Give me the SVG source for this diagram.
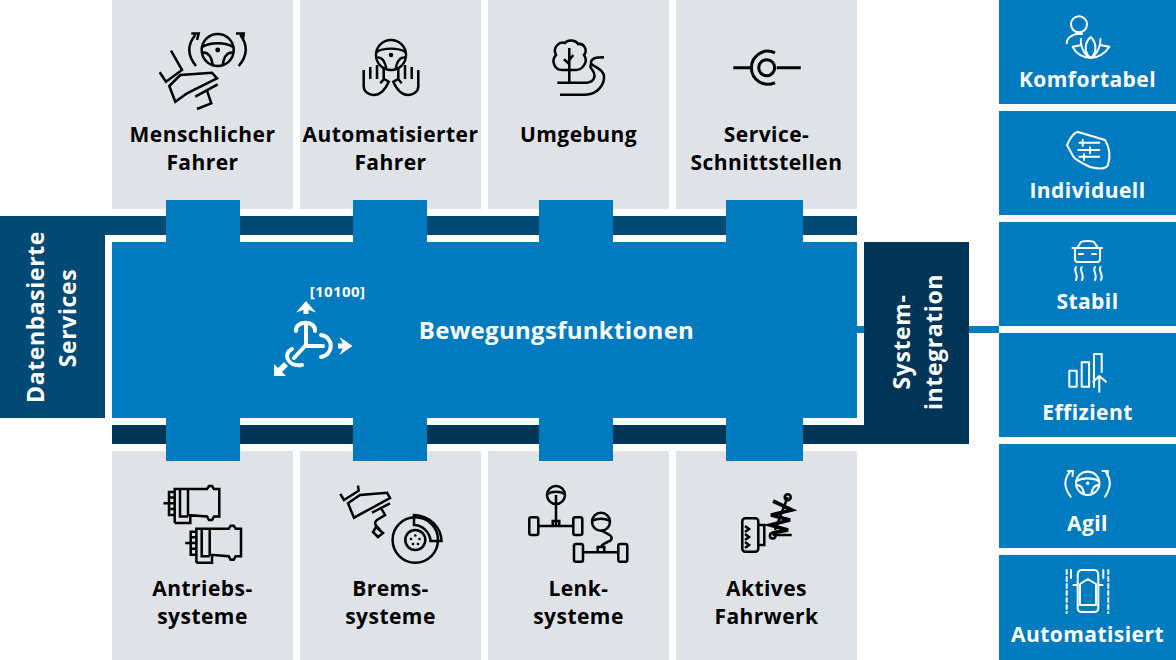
<svg xmlns="http://www.w3.org/2000/svg" width="1176" height="660" viewBox="0 0 1176 660">
<style>
text{font-family:"Open Sans","Noto Sans","Liberation Sans",sans-serif;font-weight:700}
.l{font-size:21px;letter-spacing:.45px;fill:#000;text-anchor:middle}
.w{font-size:21px;letter-spacing:.45px;fill:#fff;text-anchor:middle}
.r{font-size:23px;letter-spacing:.6px;fill:#fff;text-anchor:middle}
.cell{fill:#dfe2e6}
.blue{fill:#007bc0}
.k{fill:none;stroke:#000;stroke-width:2.500;stroke-linecap:butt;stroke-linejoin:miter}
.i{fill:none;stroke:#fff;stroke-width:2;stroke-linecap:round;stroke-linejoin:round}
.c{fill:none;stroke:#fff;stroke-width:4;stroke-linecap:round}
</style>
<defs>
<g id="wheel"><circle r="16" fill="none"/><path d="M-15.500-3C-8-8 8-8 15.500-3M-15 2.500C-8 2-6 8-5 15M15 2.500C8 2 6 8 5 15" fill="none"/><circle r="2.400" stroke="none"/></g>
<g id="motor"><path d="M174.700 523V489H207L209 486H212L214 489H219.300V516.500H214L212 520H209L207 516.500L188 515V489M180 489V516.500H188M174.700 523H190.300V515M169 492H174.700V515H169ZM163.500 503.300H169M169 497.500H174.700M169 503.300H174.700M169 509H174.700" fill="none"/></g>
</defs>
<g id="cells">
<rect class="cell" x="112" y="0" width="181" height="209"/><rect class="cell" x="300" y="0" width="181" height="209"/><rect class="cell" x="488" y="0" width="181" height="209"/><rect class="cell" x="676" y="0" width="181" height="209"/>
<rect class="cell" x="112" y="451" width="181" height="209"/><rect class="cell" x="300" y="451" width="181" height="209"/><rect class="cell" x="488" y="451" width="181" height="209"/><rect class="cell" x="676" y="451" width="181" height="209"/>
</g>
<g id="daten">
<path d="M0 216H857V235H105V418H0Z" fill="#004975"/>
<text class="r" transform="translate(44 317)rotate(-90)">Datenbasierte</text><text class="r" transform="translate(76 318)rotate(-90)">Services</text>
</g>
<g id="systemintegration">
<path d="M112 425H864V242H969V444H112Z" fill="#003558"/>
<text class="r" transform="translate(910 342)rotate(-90)">System-</text><text class="r" transform="translate(942 342)rotate(-90)">integration</text>
</g>
<g id="connectors" class="blue"><rect x="857" y="326" width="7" height="7"/><rect x="969" y="326" width="30" height="7"/></g>
<g id="bewegungsfunktionen">
<rect class="blue" x="112" y="242" width="745" height="176"/>
<rect class="blue" x="166" y="200" width="74" height="261"/><rect class="blue" x="353" y="200" width="74" height="261"/><rect class="blue" x="539" y="200" width="74" height="261"/><rect class="blue" x="726" y="200" width="77" height="261"/>
<text x="556.500" y="339" fill="#fff" text-anchor="middle" style="font-size:24px;letter-spacing:.3px">Bewegungsfunktionen</text>
<text x="337.500" y="297" fill="#fff" text-anchor="middle" style="font-size:15px;letter-spacing:.4px">[10100]</text>
<path class="c" d="M306 324V346H323M305 346L294 358M296 331C295 320 316 320 315 331M321 335C334 337 334 355 321 357M292 349C282 354 288 367 302 365"/>
<g fill="#fff"><path d="M306 301L316 312.500L306 309L296 312.500Z"/><rect x="303.500" y="307" width="5" height="7"/><path d="M352.500 346L339.500 337L344 346L339.500 355Z"/><rect x="338" y="343.500" width="8" height="5"/><path d="M274 376V364L278 368L284 362L288 366L282 372L286 376Z"/></g>
</g>
<g id="menschlicher-fahrer">
<g class="k"><use href="#wheel" fill="#000" transform="translate(217.700 50)"/><path d="M196 66C187 55 187 45 195.300 35M238.700 66C248 55 248 45 240.300 35M191.300 33.500H198.700L197 40M236 33.500H243.700L243 39.500M171 50.700L182 70L166 81.700L159.700 72.300M169.300 86L180.300 75L212 72.700L217 78.300L187 93.300L175.300 101.700ZM195.300 96.700L217.700 84.300M207 90.700L211.300 103.300L197 109"/></g>
<text class="l" x="202.500" y="142">Menschlicher</text><text class="l" x="202.500" y="170">Fahrer</text>
</g>
<g id="automatisierter-fahrer">
<g class="k"><use href="#wheel" fill="#000" transform="translate(391 55)scale(.94)"/><path d="M363.700 70V86.700C364 92 369 95 373.700 95C380 95 385 90 388.700 81.700L384 79L380.300 83.300M370.300 67V79M377 65V79M383.700 68V79"/><path d="M418.300 70V86.700C418 92 413 95 408.300 95C402 95 397 90 393.300 81.700L398 79L401.700 83.300M411.700 67V79M405 65V79M398.300 68V79"/></g>
<text class="l" x="390.500" y="142">Automatisierter</text><text class="l" x="390.500" y="170">Fahrer</text>
</g>
<g id="umgebung">
<g class="k"><path d="M562 70C554 70 551 60 556 55C552 47 560 41 565 43C568 39 576 40 578 44C584 43 588 50 584 55C589 62 582 70 576 70ZM569.300 48V82.700M564 59.300L569.300 64M573.300 55L569.300 60M557.300 82.700H586C592 82.700 597 78 593 71C590 67 590 67 591 64M560 94.700H585C598 94.700 604.500 84 604 76C603 67 590 67 591 62C592 58 596 57.300 604 57.300"/></g>
<text class="l" x="578.500" y="142">Umgebung</text>
</g>
<g id="service-schnittstellen">
<g class="k" style="stroke-width:3"><path d="M733.300 67.700H750M776.700 67.700H800.700M775 52.800A16.500 16.500 0 1 0 775 82.600"/><circle cx="766.700" cy="67.700" r="8"/></g>
<text class="l" x="766.500" y="142">Service-</text><text class="l" x="766.500" y="170">Schnittstellen</text>
</g>
<g id="antriebssysteme">
<g class="k"><use href="#motor"/><use href="#motor" transform="translate(21.700 39.700)"/></g>
<text class="l" x="202.500" y="596">Antriebs-</text><text class="l" x="202.500" y="624">systeme</text>
</g>
<g id="bremssysteme">
<g class="k"><path d="M348 503.300L360 495L387 492.700L390 498L365 511.700L354 517.700ZM340.300 494L344 500L358.700 490.700L358 485.700M372 512.700L390 503.300M381 508L385 515L377 520C373 523 376 526 380 530M376 527L383 533L378 537L373 532Z"/><circle cx="415.300" cy="540" r="22.700"/><circle cx="415.300" cy="540" r="10"/><path d="M414 515L414 525C422 525 430 532 430.500 541H441.500C441 527 430 516 414 515Z"/></g>
<g fill="#000"><circle cx="415.300" cy="535.500" r="1.300"/><circle cx="411" cy="539" r="1.300"/><circle cx="419.500" cy="539" r="1.300"/><circle cx="413" cy="544" r="1.300"/><circle cx="418" cy="544" r="1.300"/></g>
<text class="l" x="390.500" y="596">Brems-</text><text class="l" x="390.500" y="624">systeme</text>
</g>
<g id="lenksysteme">
<g class="k"><circle cx="556" cy="495" r="9"/><path d="M547.500 494C552 491 560 491 564.500 494M556 495V526M538.300 526H573.300M552.700 526V521H559.300V526"/><rect x="529.300" y="517.300" width="9" height="17.700" rx="2"/><rect x="573.300" y="517.300" width="9" height="17.700" rx="2"/><circle cx="601" cy="521.700" r="9"/><path d="M592.500 520.700C597 518 605 518 609.500 520.700M601 530C606 534 614 535 611 540C608 543 601 543 601 548M583.300 552.300H618.300M597.700 552.300V547H604.300V552.300"/><rect x="574" y="544" width="9" height="17.700" rx="2"/><rect x="618.300" y="544" width="9" height="17.700" rx="2"/></g>
<text class="l" x="578.500" y="596">Lenk-</text><text class="l" x="578.500" y="624">systeme</text>
</g>
<g id="aktives-fahrwerk">
<g class="k"><rect x="742.300" y="518.300" width="16" height="33.400" rx="3"/><path d="M758.300 525H764.300V545H758.300M745 526L749 529L745 532M745 534L749 537L745 540M745 542L749 545L745 548M772.700 535H791.700M787.700 497L775 530"/><circle cx="787.700" cy="497.300" r="3"/><circle cx="772.700" cy="535.700" r="2.800"/></g>
<path d="M773 501L792 510L771 515L790 520L770 525L788 530L772 533" fill="none" stroke="#000" stroke-width="3.600"/>
<text class="l" x="766.500" y="596">Aktives</text><text class="l" x="766.500" y="624">Fahrwerk</text>
</g>
<g id="komfortabel">
<rect class="blue" x="999" y="0" width="177" height="104"/>
<g class="i"><circle cx="1079" cy="24.300" r="8"/><path d="M1066.700 43.300C1067 37 1074 33 1082 34M1090.700 37C1084 43 1084 53 1090.700 58C1097 53 1097 43 1090.700 37ZM1081 39C1080 45 1084 55 1090 58M1100.500 39C1101 45 1097 55 1091 58M1072.700 46.700L1081.500 45M1109.300 46.700L1100 45M1072.700 46.700C1076 54 1084 58 1090.700 58C1097 58 1105 54 1109.300 46.700"/></g>
<text class="w" x="1087.500" y="87">Komfortabel</text>
</g>
<g id="individuell">
<rect class="blue" x="999" y="111" width="177" height="104"/>
<g class="i"><path d="M1078 132L1105 140C1110 148 1110 158 1108 165C1106 169 1098 169 1090 167C1082 163 1075 160 1073 156L1067 145C1069 140 1074 132 1078 132ZM1079.300 142.700H1099.300M1078.300 150H1099.300M1079.300 156.700H1099.300M1082.700 140V146M1090 147.300V153.300M1084 154V160"/></g>
<text class="w" x="1087.500" y="198">Individuell</text>
</g>
<g id="stabil">
<rect class="blue" x="999" y="222" width="177" height="104"/>
<g class="i"><path d="M1072.500 248H1102M1075 248V259C1075 261 1076 262 1078 262H1097C1099 262 1100 261 1100 259V248M1077 248L1081 242C1082 240.500 1093 240.500 1094 242L1098 248M1079 254H1083M1092 254H1096M1076 267C1073 271 1079 275 1076 280M1081.700 267C1079 271 1085 275 1082 280M1095 267C1092 271 1098 275 1095 280M1100.500 267C1098 271 1104 275 1101 280"/></g>
<text class="w" x="1087.500" y="309">Stabil</text>
</g>
<g id="effizient">
<rect class="blue" x="999" y="333" width="177" height="104"/>
<g class="i"><rect x="1069.300" y="370.700" width="7.400" height="16"/><rect x="1081.700" y="362.300" width="7.400" height="24.400"/><path d="M1094 387V354H1101.700V372M1099.300 391.700V376M1093.300 381.700L1099.300 376L1106 381.700"/></g>
<text class="w" x="1087.500" y="420">Effizient</text>
</g>
<g id="agil">
<rect class="blue" x="999" y="444" width="177" height="104"/>
<g class="i"><use href="#wheel" transform="translate(1087.700 483.300)scale(.73)" fill="#fff" style="stroke-width:2.800"/><path d="M1070.700 496.700C1064 488 1064 479 1070 471.700M1105 496.700C1111 488 1111 479 1105.700 471.700M1068 471H1073L1072.500 476M1102.500 471H1108L1107.500 476"/></g>
<text class="w" x="1087.500" y="531">Agil</text>
</g>
<g id="automatisiert">
<rect class="blue" x="999" y="555" width="177" height="105"/>
<g class="i"><path d="M1066.700 570V613M1108.300 570V613" stroke-dasharray="4 3"/><path d="M1071 570V578M1103.300 570V578M1077.700 575C1077.700 571 1080 570 1082 570H1094C1096 570 1098.300 571 1098.300 575V608C1098.300 611 1096 612 1094 612H1082C1080 612 1077.700 611 1077.700 608ZM1080 584L1087.800 579L1096 584V605H1080ZM1077.700 585L1073.500 585M1098.300 585L1102.500 585"/></g>
<text class="w" x="1087.500" y="642">Automatisiert</text>
</g>
</svg>
